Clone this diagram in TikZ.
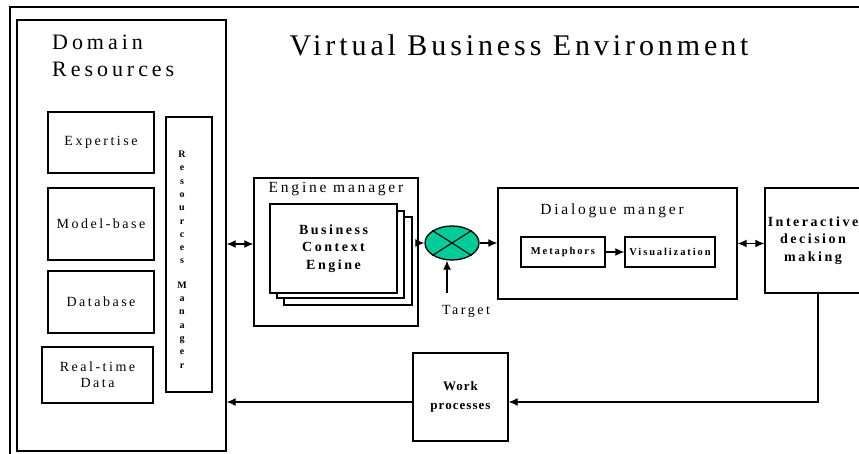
\documentclass[tikz,border=0pt]{standalone}
\usepackage{fontspec}
\setmainfont{Liberation Serif}
\newfontfamily\spaced[LetterSpace=18]{Liberation Serif}
\newfontfamily\titlefont[LetterSpace=13]{Liberation Serif}
\newfontfamily\tight[LetterSpace=8]{Liberation Serif}
\usetikzlibrary{arrows.meta, shapes.geometric, positioning}
\definecolor{xorgreen}{RGB}{0,204,153}
\tikzset{
    box/.style={draw, line width=1.4pt, inner sep=0pt, align=center},
    lbl/.style={font=\spaced\fontsize{14}{16}\selectfont, align=center},
    blbl/.style={font=\spaced\bfseries\fontsize{14}{17.5}\selectfont, align=center},
    sblbl/.style={font=\spaced\bfseries\fontsize{10.5}{12}\selectfont, align=center},
    arr/.style={line width=1.2pt, -{Latex[length=9pt,width=8pt]}},
    dblarr/.style={line width=1.2pt, {Latex[length=9pt,width=8pt]}-{Latex[length=9pt,width=8pt]}}
}

\begin{document}
\begin{tikzpicture}[x=1pt, y=-1pt]
            \useasboundingbox (0,0) rectangle (859,453);
            \draw[line width=1.4pt] (10,7) rectangle (900,500);
            \node[font=\titlefont\fontsize{30}{34}\selectfont, anchor=base] (title) at (519,55) {Virtual Business Environment};

            \node[box, minimum width=209pt, minimum height=431pt] (domain) at (121.5,235.5) {};
                \node[font=\spaced\fontsize{22}{27}\selectfont, align=left, anchor=north west, inner sep=0pt] (domtitle) at (52,35) {Domain\\Resources};
            \node[box, lbl, minimum width=106pt, minimum height=61pt] (expertise) at (101,142.5) {Expertise};
            \node[box, lbl, minimum width=106pt, minimum height=72pt] (modelbase) at (101,224) {Model-base};
            \node[box, lbl, minimum width=106pt, minimum height=62pt] (database) at (101,302) {Database};
            \node[box, lbl, minimum width=111pt, minimum height=56pt] (realtime) at (97.5,375) {Real-time\\Data};
            \node[box, minimum width=46pt, minimum height=275pt] (resman) at (189,254.5) {};
                \node[font=\bfseries\fontsize{10}{13.3}\selectfont, align=center] (resmantext) at (182,259.5)
                    {R\\e\\s\\o\\u\\r\\c\\e\\s\\[11pt]M\\a\\n\\a\\g\\e\\r};

            \node[box, minimum width=164pt, minimum height=148pt] (engine) at (336,252) {};
                \node[font=\spaced\fontsize{15.5}{18}\selectfont, anchor=base] (engtitle) at (336,192) {Engine manager};
            \node[box, fill=white, minimum width=128pt, minimum height=88pt] (bce3) at (348,261) {};
            \node[box, fill=white, minimum width=127pt, minimum height=87pt] (bce2) at (340.5,254.5) {};
            \node[box, blbl, fill=white, minimum width=127pt, minimum height=89pt] (bce) at (333.5,248.5) {Business\\Context\\Engine};

            \node[ellipse, draw, line width=1.3pt, fill=xorgreen, minimum width=54pt, minimum height=34pt, inner sep=0pt] (xor) at (452,243) {};
                \draw[line width=1.1pt] (xor.north west) -- (xor.south east);
                \draw[line width=1.1pt] (xor.south west) -- (xor.north east);
            \node[font=\spaced\fontsize{14}{16}\selectfont, anchor=base] (target) at (466,314) {Target};
            \coordinate (tgtfoot) at (447,293);

            \node[box, minimum width=239pt, minimum height=111pt] (dialogue) at (617.5,243.5) {};
                \node[font=\spaced\fontsize{15.5}{18}\selectfont, anchor=base] (dlgtitle) at (612,214) {Dialogue manger};
            \node[box, sblbl, minimum width=84pt, minimum height=30pt] (metaphors) at (563,252) {Metaphors};
            \node[box, sblbl, minimum width=90pt, minimum height=30pt] (visual) at (670,252) {Visualization};

            \node[box, blbl, minimum width=96pt, minimum height=105pt] (inter) at (813,240.5) {Interactive\\decision\\making};

            \node[box, font=\tight\bfseries\fontsize{13}{19}\selectfont, minimum width=95pt, minimum height=88pt] (work) at (460.5,397) {Work\\processes};

            \draw[dblarr] ([yshift=8pt]engine.west -| domain.east) -- ([yshift=8pt]engine.west);
            \draw[arr] (xor.west -| engine.east) -- (xor.west);
            \draw[arr] (xor.east) -- (xor.east -| dialogue.west);
            \draw[arr] (tgtfoot) -- (tgtfoot |- xor.south);
            \draw[arr] (metaphors) -- (visual);
            \draw[dblarr] (dialogue.east) -- (dialogue.east -| inter.west);
            \draw[arr] ([xshift=5pt]inter.south) |- ([yshift=-5pt]work.east);
            \draw[arr] ([yshift=-5pt]work.west) -- ([yshift=-5pt]work.west -| domain.east);

      \end{tikzpicture}
\end{document}
